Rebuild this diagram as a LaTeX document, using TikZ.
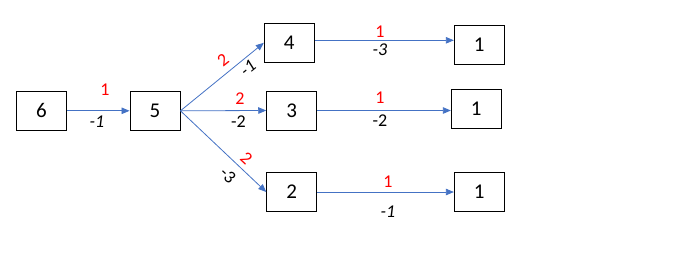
\documentclass[tikz,border=0pt]{standalone}
\usepackage{fontspec}
\setmainfont{Carlito}
\usetikzlibrary{arrows.meta}
\definecolor{arrowblue}{RGB}{68,114,196}
\definecolor{lblred}{RGB}{255,0,0}
\tikzset{
  box/.style={draw=black, line width=0.9pt, minimum width=50pt, minimum height=39pt, inner sep=0pt, font=\fontsize{21}{24}\selectfont},
  conn/.style={draw=arrowblue, line width=0.8pt, -{Triangle[length=8pt,width=6.5pt]}},
  rlbl/.style={text=lblred, font=\fontsize{18}{20}\selectfont, inner sep=0pt},
  blbl/.style={text=black, font=\fontsize{18}{20}\selectfont, inner sep=0pt},
}
\begin{document}
\begin{tikzpicture}[x=1pt,y=-1pt]
\useasboundingbox (0,0) rectangle (674,269);
\node[box] (n6) at (41.5,110.8) {6};
\node[box] (n5) at (155,110.8) {5};
\node[box] (n4) at (289.3,42.8) {4};
\node[box] (n3) at (291.7,110.5) {3};
\node[box] (n2) at (291.7,192) {2};
\node[box] (t1) at (479.3,44.8) {1};
\node[box] (m1) at (476.3,108.8) {1};
\node[box] (b1) at (479.3,192) {1};

\draw[conn] (n6) -- (n5);
\draw[conn] (n5.east) -- (n4.west);
\draw[conn] (n5.east) -- (n3.west);
\draw[conn] (n5.east) -- (n2.west);
\draw[conn] ([yshift=2.5pt]n4.east) -- ([yshift=2.5pt]n4.east -| t1.west);
\draw[conn] (n3.east) -- (n3.east -| m1.west);
\draw[conn] (n2) -- (b1);

\node[rlbl] (l65a) at (105,89.5) {1};
\node[blbl] (l65b) at (97,121.5) {\itshape -1};
\node[rlbl, rotate=39] (l54a) at (223,60) {2};
\node[blbl, rotate=39] (l54b) at (248,68) {\itshape -1};
\node[rlbl] (l53a) at (240,98.5) {2};
\node[blbl] (l53b) at (238.5,121.5) {-2};
\node[rlbl, rotate=-43] (l52a) at (246.5,158) {2};
\node[blbl, rotate=-43] (l52b) at (228,175) {-3};
\node[rlbl] (l41a) at (380,31.5) {1};
\node[blbl] (l41b) at (380,50) {\itshape -3};
\node[rlbl] (l31a) at (380,98) {1};
\node[blbl] (l31b) at (380,120.5) {-2};
\node[rlbl] (l21a) at (388,181.5) {1};
\node[blbl] (l21b) at (388,212) {\itshape -1};
\end{tikzpicture}
\end{document}
